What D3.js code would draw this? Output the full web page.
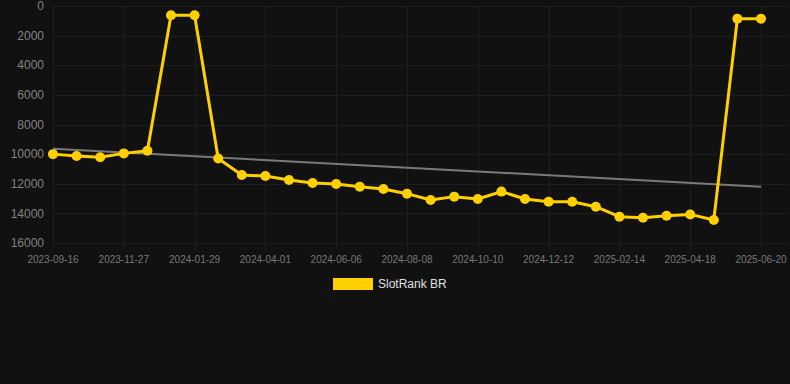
<!DOCTYPE html>
<html><head><meta charset="utf-8">
<script src="https://cdn.jsdelivr.net/npm/d3@7/dist/d3.min.js"></script>
<style>
html,body{margin:0;padding:0;background:#111111;}
svg{display:block;font-family:"Liberation Sans",Arial,sans-serif;}
</style></head>
<body><svg id="c" width="790" height="384"></svg>
<script>
const categories = ["2023-09-16","2023-10-10","2023-11-03","2023-11-27","2023-12-18","2024-01-08","2024-01-29",
"2024-02-19","2024-03-11","2024-04-01","2024-04-23","2024-05-15","2024-06-06","2024-06-27","2024-07-18",
"2024-08-08","2024-08-29","2024-09-19","2024-10-10","2024-10-31","2024-11-21","2024-12-12","2025-01-02",
"2025-01-23","2025-02-14","2025-03-07","2025-03-28","2025-04-18","2025-05-09","2025-05-30","2025-06-20"];
const rankValues = [10000,10130,10210,9950,9770,630,630,10290,11410,11480,11750,11950,12020,12200,12360,
12670,13100,12870,13030,12530,13030,13210,13210,13550,14220,14290,14160,14070,14450,855,855];
const trendValues = [9630,12200];
const yTicks = [0,2000,4000,6000,8000,10000,12000,14000,16000];
const xTickLabels = categories.filter((d,i)=>i%3===0);
const seriesName = "SlotRank BR";

const svg = d3.select("#c");
const L=53,R=761,T=6,B=243;
const x = d3.scalePoint().domain(categories).range([L,R]);
const y = d3.scaleLinear().domain([0,16000]).range([T,B]);

// horizontal grid
svg.append("g").selectAll("line").data(yTicks).join("line")
 .attr("x1",L).attr("x2",R+28).attr("y1",d=>Math.round(y(d))+0.5).attr("y2",d=>Math.round(y(d))+0.5)
 .attr("stroke","#1e1e1e").attr("stroke-width",1);
// vertical grid
svg.append("g").selectAll("line").data(xTickLabels).join("line")
 .attr("x1",d=>Math.round(x(d))+0.5).attr("x2",d=>Math.round(x(d))+0.5).attr("y1",T).attr("y2",B+6)
 .attr("stroke","#1e1e1e").attr("stroke-width",1);

// y labels
svg.append("g").selectAll("text").data(yTicks).join("text")
 .attr("x",44).attr("y",d=>y(d)).attr("dy","0.35em").attr("text-anchor","end")
 .attr("font-size",12).attr("fill","#828282").text(d=>d);
// x labels
svg.append("g").selectAll("text").data(xTickLabels).join("text")
 .attr("x",d=>x(d)).attr("y",259).attr("dy","0.35em").attr("text-anchor","middle")
 .attr("font-size",10).attr("fill","#777777").text(d=>d);

// trend line
svg.append("line")
 .attr("x1",x(categories[0])).attr("y1",y(trendValues[0]))
 .attr("x2",x(categories[categories.length-1])).attr("y2",y(trendValues[1]))
 .attr("stroke","#7a7a7a").attr("stroke-width",2);

const data = categories.map((c,i)=>({c,v:rankValues[i]}));
svg.append("path").datum(data)
 .attr("d",d3.line().x(d=>x(d.c)).y(d=>y(d.v)))
 .attr("fill","none").attr("stroke","#FFD000").attr("stroke-width",3).attr("stroke-linejoin","round");
svg.append("g").selectAll("circle").data(data).join("circle")
 .attr("cx",d=>x(d.c)).attr("cy",d=>y(d.v)).attr("r",5).attr("fill","#FFD000");

// legend
svg.append("rect").attr("x",333).attr("y",278).attr("width",40).attr("height",12).attr("fill","#FFD000");
svg.append("text").attr("x",378).attr("y",284).attr("dy","0.35em").attr("font-size",12)
 .attr("fill","#e0e0e0").text(seriesName);
</script></body></html>
